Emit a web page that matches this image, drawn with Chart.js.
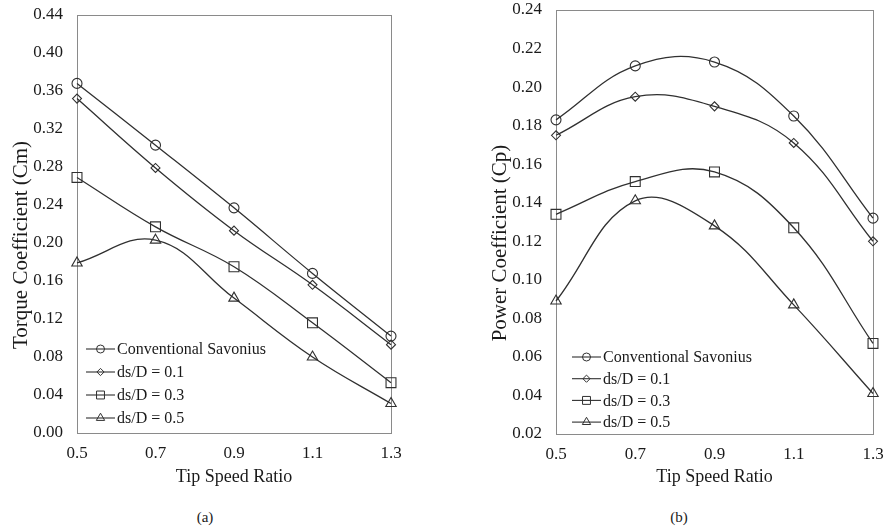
<!DOCTYPE html>
<html>
<head>
<meta charset="utf-8">
<script src="https://cdn.jsdelivr.net/npm/chart.js"></script>
<style>
  body { margin: 0; background: #fff; }
  #page { position: relative; width: 886px; height: 529px; font-family: "Liberation Serif", serif; }
  .box { position: absolute; top: 0; width: 443px; height: 508px; }
  .cap { position: absolute; top: 508px; width: 40px; text-align: center; font-size: 15px; line-height: 18px; color: #1a1a1a; }
</style>
</head>
<body>
<div id="page">
  <div class="box" style="left:0"><canvas id="cmChart" width="443" height="508"></canvas></div>
  <div class="box" style="left:443px"><canvas id="cpChart" width="443" height="508"></canvas></div>
  <div class="cap" style="left:185px">(a)</div>
  <div class="cap" style="left:659px">(b)</div>
</div>
<script>
// tip speed ratio categories
var tsr = ["0.5", "0.7", "0.9", "1.1", "1.3"];
var seriesNames = ["Conventional Savonius", "ds/D = 0.1", "ds/D = 0.3", "ds/D = 0.5"];

// (a) torque coefficient
var cmConventional = [0.368, 0.303, 0.237, 0.168, 0.102];
var cmDs01 = [0.352, 0.279, 0.213, 0.156, 0.093];
var cmDs03 = [0.269, 0.217, 0.175, 0.116, 0.053];
var cmDs05 = [0.179, 0.203, 0.142, 0.080, 0.031];

// (b) power coefficient
var cpConventional = [0.183, 0.211, 0.213, 0.185, 0.132];
var cpDs01 = [0.175, 0.195, 0.190, 0.171, 0.120];
var cpDs03 = [0.134, 0.151, 0.156, 0.127, 0.067];
var cpDs05 = [0.089, 0.141, 0.128, 0.087, 0.041];

// y axis ranges
var cmAxis = [0, 0.44, 0.04];
var cpAxis = [0.02, 0.24, 0.02];

var serif = "'Liberation Serif', 'Times New Roman', serif";
var ink = "#303030";
var markers = ["circle", "rectRot", "rect", "triangle"];
var markerSize = [5, 4.5, 7, 6];

// box around the plot area
var framePlugin = {
  id: "frame",
  beforeDatasetsDraw: function(chart) {
    var a = chart.chartArea;
    var ctx = chart.ctx;
    ctx.save();
    ctx.strokeStyle = "#8a8a8a";
    ctx.lineWidth = 1;
    ctx.strokeRect(Math.round(a.left) + 0.5, Math.round(a.top) + 0.5,
      Math.round(a.right - a.left), Math.round(a.bottom - a.top));
    ctx.restore();
  }
};

// legend drawn inside the plot, bottom left, line + marker like excel
var insideLegend = {
  id: "insideLegend",
  afterDatasetsDraw: function(chart, args, opts) {
    var ctx = chart.ctx;
    var a = chart.chartArea;
    var x0 = a.left + opts.dx;
    chart.data.datasets.forEach(function(ds, i) {
      var y = a.bottom - opts.up + i * opts.step;
      ctx.save();
      ctx.strokeStyle = ink;
      ctx.lineWidth = 1.1;
      ctx.beginPath();
      ctx.moveTo(x0, y);
      ctx.lineTo(x0 + 29, y);
      ctx.stroke();
      ctx.fillStyle = "rgba(0,0,0,0)";
      ctx.lineWidth = 1;
      Chart.helpers.drawPoint(ctx, {
        pointStyle: ds.pointStyle,
        radius: ds.pointRadius * 0.8,
        rotation: 0,
        borderWidth: 1
      }, x0 + 14.5, y);
      ctx.fillStyle = "#1a1a1a";
      ctx.font = "16px " + serif;
      ctx.textBaseline = "middle";
      ctx.textAlign = "left";
      ctx.fillText(ds.label, x0 + 31, y + 1);
      ctx.restore();
    });
  }
};

function makeChart(id, values, axis, yTitle, pad, xHeight, legendPos) {
  var datasets = [];
  for (var i = 0; i < values.length; i++) {
    datasets.push({
      label: seriesNames[i],
      data: values[i],
      borderColor: ink,
      borderWidth: 1.3,
      tension: 0.4,
      fill: false,
      clip: false,
      pointStyle: markers[i],
      pointRadius: markerSize[i],
      pointBorderWidth: 1.1,
      pointBorderColor: ink,
      pointBackgroundColor: "rgba(0,0,0,0)"
    });
  }

  var ctx = document.getElementById(id).getContext("2d");
  return new Chart(ctx, {
    type: "line",
    data: { labels: tsr, datasets: datasets },
    options: {
      responsive: false,
      animation: false,
      layout: { padding: pad },
      plugins: {
        legend: { display: false },
        tooltip: { enabled: false },
        insideLegend: legendPos
      },
      scales: {
        x: {
          type: "category",
          offset: false,
          grid: { display: false, drawTicks: false },
          border: { display: false },
          ticks: { padding: 10, color: "#1a1a1a", font: { family: serif, size: 17 } },
          title: {
            display: true,
            text: "Tip Speed Ratio",
            color: "#1a1a1a",
            font: { family: serif, size: 18 },
            padding: { top: 0, bottom: 20 }
          },
          afterFit: function(s) {
            s.height = xHeight;
            // room for the end labels is already in the layout padding
            s.paddingLeft = 0;
            s.paddingRight = 0;
          }
        },
        y: {
          min: axis[0],
          max: axis[1],
          grid: { display: false, drawTicks: false },
          border: { display: false },
          ticks: {
            stepSize: axis[2],
            padding: 14,
            color: "#1a1a1a",
            font: { family: serif, size: 17 },
            callback: function(v) { return v.toFixed(2); }
          },
          title: {
            display: true,
            // trailing spaces push the rotated title a bit lower, like the original
            text: yTitle + "\u00a0\u00a0\u00a0\u00a0\u00a0\u00a0\u00a0\u00a0",
            color: "#1a1a1a",
            font: { family: serif, size: 21 },
            padding: { top: 9, bottom: 0 }
          },
          afterFit: function(s) {
            s.width = 77;
            s.paddingTop = 0;
            s.paddingBottom = 0;
          }
        }
      }
    },
    plugins: [framePlugin, insideLegend]
  });
}

makeChart("cmChart", [cmConventional, cmDs01, cmDs03, cmDs05], cmAxis,
  "Torque Coefficient (Cm)", { left: 0, right: 52, top: 15, bottom: 0 }, 75,
  { dx: 9, up: 84, step: 23 });

makeChart("cpChart", [cpConventional, cpDs01, cpDs03, cpDs05], cpAxis,
  "Power Coefficient (Cp)", { left: 36, right: 13, top: 10, bottom: 0 }, 74,
  { dx: 16, up: 77, step: 21.7 });
</script>
</body>
</html>
